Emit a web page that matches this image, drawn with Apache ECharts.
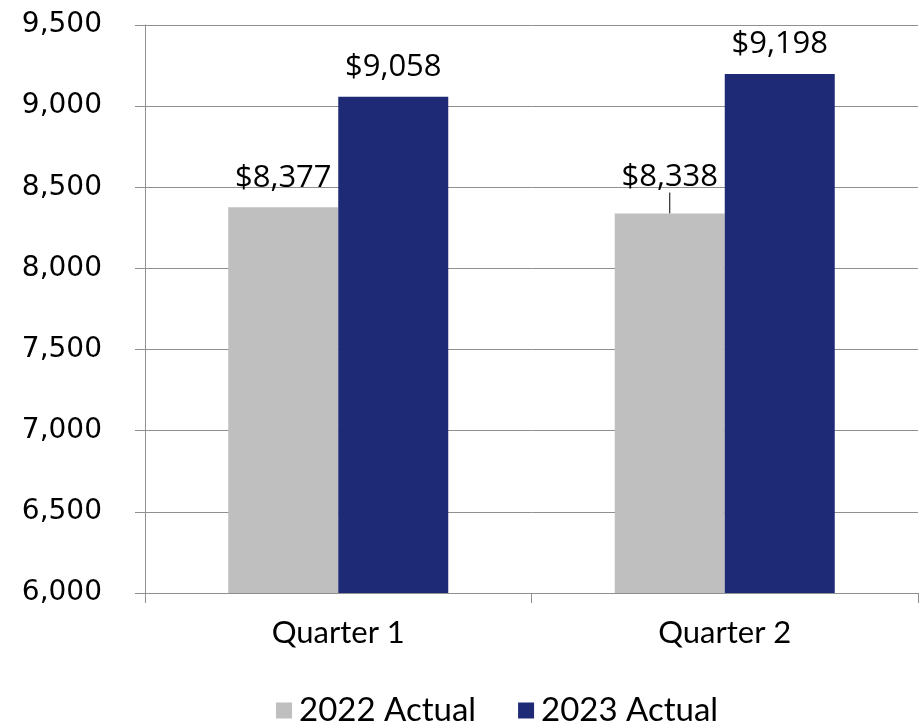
<!DOCTYPE html>
<html>
<head>
<meta charset="utf-8">
<script src="https://cdn.jsdelivr.net/npm/echarts@6/dist/echarts.min.js"></script>
<style>
  html, body { margin: 0; padding: 0; background: #fff; }
  #chart { width: 919px; height: 726px; }
</style>
</head>
<body>
<div id="chart"></div>
<script>
// Quarterly totals, 2022 vs 2023
const categories = ['Quarter 1', 'Quarter 2'];
const actual2022 = [8377, 8338];
const actual2023 = [9058, 9198];
const seriesNames = ['2022 Actual', '2023 Actual'];

const gridColor = '#8f8f8f';
const fmtMoney = v => '$' + v.toLocaleString('en-US');

const chart = echarts.init(document.getElementById('chart'));

const valueLabel = {
  show: true,
  position: 'top',
  distance: 14,
  fontFamily: 'Open Sans',
  fontSize: 31,
  color: '#000',
  formatter: p => fmtMoney(p.value)
};

// The Q2 2022 label is nudged up and tied to its bar with a short leader line
const data2022 = actual2022.map((v, i) => i === 1
  ? { value: v, labelLine: { show: true, lineStyle: { color: '#000', width: 1 } } }
  : { value: v, labelLine: { show: false } });

chart.setOption({
  animation: false,
  backgroundColor: '#fff',
  grid: { left: 145, right: 1, top: 25, bottom: 133 },
  legend: {
    bottom: -6,
    left: 271,
    itemWidth: 16,
    itemHeight: 16,
    itemGap: 42,
    icon: 'rect',
    textStyle: { fontFamily: 'Lato', fontSize: 33, color: '#000', padding: [0, 0, 0, 2] },
    data: seriesNames
  },
  xAxis: {
    type: 'category',
    data: categories,
    axisLine: { lineStyle: { color: gridColor, width: 1 } },
    axisTick: { show: true, length: 10, lineStyle: { color: gridColor } },
    axisLabel: { fontFamily: 'Lato', fontSize: 31, color: '#000', margin: 24 }
  },
  yAxis: {
    type: 'value',
    min: 6000,
    max: 9500,
    interval: 500,
    axisLine: { show: true, lineStyle: { color: gridColor, width: 1 } },
    axisTick: { show: true, length: 10, lineStyle: { color: gridColor } },
    splitLine: { lineStyle: { color: gridColor, width: 1 } },
    axisLabel: {
      fontFamily: 'DejaVu Sans',
      fontSize: 28,
      color: '#000',
      margin: 43,
      formatter: v => v.toLocaleString('en-US')
    }
  },
  series: [
    {
      name: seriesNames[0],
      type: 'bar',
      data: data2022,
      barWidth: 110,
      barGap: '0%',
      itemStyle: { color: '#bfbfbf' },
      label: valueLabel,
      labelLayout: p => (p.dataIndex === 1 ? { dy: -7 } : {})
    },
    {
      name: seriesNames[1],
      type: 'bar',
      data: actual2023,
      barWidth: 110,
      barGap: '0%',
      itemStyle: { color: '#1f2a76' },
      label: valueLabel
    }
  ]
});
</script>
</body>
</html>
